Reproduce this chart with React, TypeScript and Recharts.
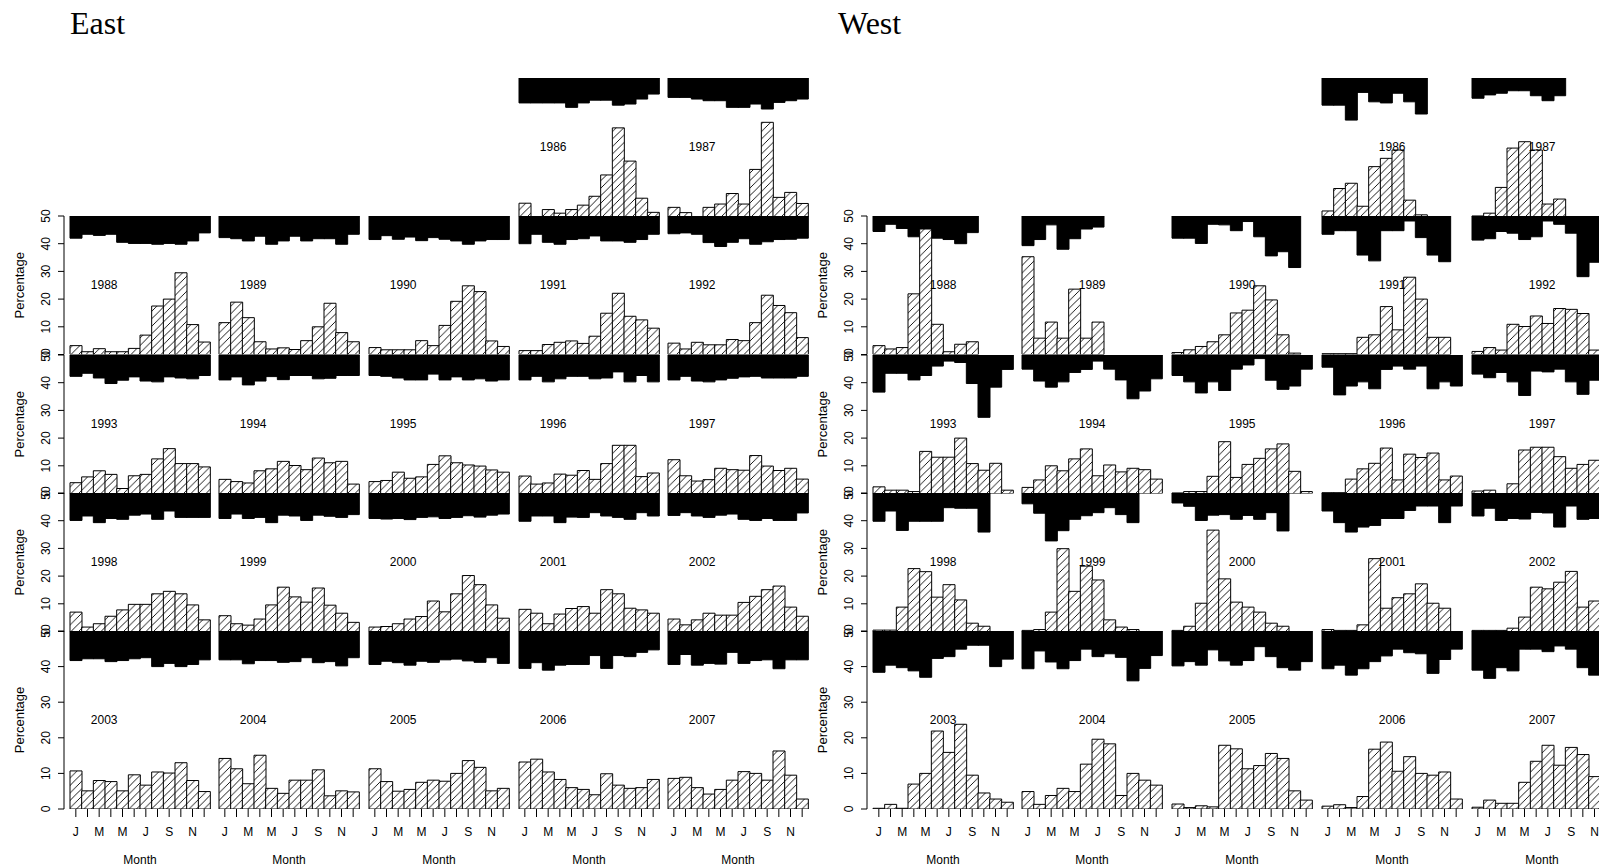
import { BarChart, Bar, XAxis, YAxis, ReferenceDot } from "recharts";

const MONTHS = [1, 2, 3, 4, 5, 6, 7, 8, 9, 10, 11, 12];
const MONTH_LETTERS = ["J", "F", "M", "A", "M", "J", "J", "A", "S", "O", "N", "D"];
const Y_TICKS = [0, 10, 20, 30, 40, 50];

// panel grid, top row only has the last two years
const YEAR_GRID: (number | null)[][] = [
  [null, null, null, 1986, 1987],
  [1988, 1989, 1990, 1991, 1992],
  [1993, 1994, 1995, 1996, 1997],
  [1998, 1999, 2000, 2001, 2002],
  [2003, 2004, 2005, 2006, 2007],
];

type Series = Record<number, (number | null)[]>;

// hatched bars: monthly percentage
const EAST_PCT: Series = {
  1986: [4.8, 0, 2.5, 1.2, 2.5, 4.1, 7.3, 15, 32, 20, 6.6, 1.5],
  1987: [3.3, 1.4, 0, 3.3, 4.5, 8.3, 4.5, 17, 34, 6.9, 8.7, 4.7],
  1988: [3.2, 1, 2.1, 1, 1, 2.2, 7, 17.5, 20, 29.5, 10.8, 4.5],
  1989: [11.5, 18.9, 13.3, 4.6, 2, 2.4, 1.8, 5, 10, 18.5, 7.9, 4.6],
  1990: [2.5, 1.7, 1.7, 1.7, 5, 3.2, 10.5, 19.2, 24.8, 22.7, 4.9, 2.9],
  1991: [1.4, 1.4, 3.6, 4.4, 4.9, 4, 6.6, 14.9, 22.1, 13.8, 12.5, 9.5],
  1992: [4.1, 2, 4.4, 3.5, 3.5, 5.4, 5, 11.5, 21.4, 17.7, 15.1, 6.1],
  1993: [3.9, 6, 8.2, 6.9, 1.8, 6.4, 6.9, 12.5, 16.2, 10.8, 10.8, 9.6],
  1994: [5.1, 4.3, 3.8, 8.2, 8.9, 11.6, 10.1, 8.6, 12.8, 11.1, 11.6, 3.4],
  1995: [4.3, 4.7, 7.7, 5.5, 6, 10.5, 13.6, 11.1, 10.3, 9.9, 8.5, 7.7],
  1996: [6.3, 3.4, 3.8, 7, 6.6, 8.3, 5.1, 10.8, 17.4, 17.4, 6.1, 7.4],
  1997: [12.2, 6.4, 4.5, 5, 9.1, 8.6, 8.4, 13.7, 9.9, 8.3, 9.1, 5.2],
  1998: [7, 1.6, 2.8, 5.5, 7.8, 9.8, 9.8, 13.6, 14.5, 13.6, 9.6, 4.2],
  1999: [5.7, 2.8, 2.3, 4.5, 9.6, 16, 12.5, 10.6, 15.7, 9.5, 6.6, 3.3],
  2000: [1.6, 1.8, 2.8, 4.5, 5.4, 11, 7.1, 13.6, 20.2, 16.9, 9.6, 4.8],
  2001: [8, 6.6, 2.8, 6.3, 8.3, 9, 6.6, 15.1, 13.6, 8.4, 7.8, 6.6],
  2002: [4.5, 2.4, 4.2, 6.6, 5.9, 5.9, 10.5, 12.7, 15.1, 16.4, 8.8, 5.5],
  2003: [10.7, 5.1, 8, 7.7, 5.1, 9.6, 6.7, 10.4, 10.1, 13, 8, 4.9],
  2004: [14.2, 11.3, 7.1, 15.1, 5.8, 4.4, 8.1, 8.1, 11, 3.7, 5.1, 4.8],
  2005: [11.3, 7.7, 5, 5.5, 7.5, 8.1, 7.8, 10, 13.6, 11.7, 5.1, 5.8],
  2006: [13.2, 14, 10.4, 8.3, 6, 5.5, 4, 9.9, 6.7, 5.8, 6, 8.3],
  2007: [8.6, 8.9, 6, 4.2, 5.5, 8.1, 10.5, 10, 8.1, 16.3, 9.5, 2.8],
};

// black bars: depth hanging down from the 50 line
const EAST_DEPTH: Series = {
  1986: [9, 9, 9, 9, 10.6, 9, 8, 8, 9.8, 9.4, 7.6, 5.8],
  1987: [7, 7, 7.6, 8.2, 8.2, 10.6, 10.6, 9.4, 11.2, 8.8, 8.2, 7.6],
  1988: [8, 6.6, 7, 6.6, 9.5, 9.9, 9.9, 10.2, 9.9, 10.2, 9, 6.1],
  1989: [7.8, 8.2, 9, 7.3, 10.2, 9, 7.3, 9, 8.2, 8.2, 10.2, 6.6],
  1990: [8.5, 7.1, 8.4, 7.6, 8.9, 7.8, 8.4, 9, 10.2, 9, 8.5, 8.5],
  1991: [10, 6.6, 9.5, 10.2, 8.5, 8.2, 7.2, 9, 9, 9.5, 8.5, 6.6],
  1992: [6.4, 6.1, 6.6, 9.6, 11, 9.5, 8.2, 10.2, 9.3, 8.5, 8.4, 8],
  1993: [7.7, 6.6, 8.3, 10.3, 9.1, 7.9, 9.4, 9.7, 7.9, 8.3, 8.6, 7.4],
  1994: [9, 7.9, 10.8, 9.4, 7.8, 8.9, 7.4, 7.4, 8.6, 8.4, 7.4, 7.4],
  1995: [7.4, 7.7, 8.3, 9, 9, 6.9, 9, 7.9, 9, 8.6, 9.4, 9],
  1996: [9, 7.7, 9.7, 8.6, 7.7, 7.7, 8.6, 8.3, 6.1, 9.7, 7.4, 9.7],
  1997: [9, 7.7, 9.4, 9.7, 9, 8.4, 7.9, 7.7, 8.3, 8.3, 8.3, 7.7],
  1998: [9.9, 8.3, 10.7, 9.2, 9.5, 8, 7.6, 9.5, 6.5, 8.8, 8.8, 8.8],
  1999: [9.2, 7.6, 9.2, 8.8, 10.7, 8, 8.3, 9.9, 8, 8.4, 8.8, 7.8],
  2000: [9.2, 9.4, 9.2, 9.6, 8.8, 8.6, 9.2, 8.8, 8.2, 8.7, 8, 7.6],
  2001: [10.2, 8.3, 8.3, 10.7, 8.7, 8.8, 7.1, 8.3, 8.8, 9.5, 7.1, 8.3],
  2002: [8.1, 7.1, 8.3, 8.8, 8, 7.6, 9.5, 9.9, 9.2, 9.9, 9.9, 7.2],
  2003: [8.3, 7.8, 7.8, 8.6, 8.3, 7.8, 7.5, 10, 9.1, 10, 9.4, 8.1],
  2004: [8.1, 8.1, 9.2, 8.3, 8.3, 8.8, 8.6, 7.5, 8.9, 8.6, 9.8, 7.5],
  2005: [9.4, 8.5, 8.9, 9.6, 8.5, 8.8, 8.1, 7.9, 8.4, 8.8, 7.5, 9.1],
  2006: [10.5, 8.9, 11, 9.6, 9.4, 9.4, 6.9, 10.5, 6.9, 7.2, 6, 5.3],
  2007: [9.4, 6.6, 9.6, 9.1, 9.3, 6, 9.1, 8.3, 8.1, 10.6, 8.1, 8.1],
};

const WEST_PCT: Series = {
  1986: [2, 10.1, 12, 3.7, 18, 21, 24, 5.9, 0.6, null, null, null],
  1987: [0.2, 1.2, 10.5, 24.7, 27, 24, 4.5, 6.3, null, null, null, null],
  1988: [3.2, 2, 2.5, 21.9, 45.3, 10.9, 1, 3.7, 4.6, null, null, null],
  1989: [35.3, 5.9, 11.7, 5.9, 23.6, 5.9, 11.7, null, null, null, null, null],
  1990: [0.7, 1.7, 2.9, 4.6, 7.1, 15, 16, 24.8, 19.7, 7.1, 0.5, null],
  1991: [0.3, 0.3, 0.3, 6.2, 7.1, 17.3, 8.9, 27.9, 20, 6.2, 6.2, null],
  1992: [1.1, 2.5, 1.6, 10.9, 10.1, 13.9, 11.2, 16.6, 16.3, 14.8, 1.6, 1.5],
  1993: [2.4, 1.2, 1.2, 0.7, 15.2, 13.1, 13.1, 20, 10.8, 8.4, 10.9, 1.2],
  1994: [2.2, 4.9, 10, 8.2, 12.5, 16.1, 6.4, 10.3, 7.8, 9.1, 8.6, 5.2],
  1995: [0.2, 0.7, 0.7, 6.2, 18.7, 5.8, 10.5, 12.7, 16.1, 17.9, 8, 0.7],
  1996: [0.3, 0.3, 5.2, 8.9, 10.9, 16.4, 4.9, 14.2, 13, 14.6, 4.9, 6.3],
  1997: [0.9, 1.2, 0, 3.5, 15.7, 16.7, 16.7, 13.3, 9.1, 10.5, 12, 12],
  1998: [0.5, 0.5, 8.8, 22.7, 21.6, 12.4, 16.9, 11.4, 3, 1.9, null, null],
  1999: [0.4, 0.7, 7, 29.9, 14.5, 23.6, 18.6, 4.2, 1.6, 0.7, null, null],
  2000: [0.4, 1.9, 10.2, 36.6, 19, 10.6, 8.8, 7, 3, 1.9, null, null],
  2001: [0.7, 0.4, 0.4, 2.4, 26.3, 8.4, 12.2, 13.6, 17.2, 10.2, 8.4, 0],
  2002: [0.4, 0.4, 0.4, 1.2, 5.2, 16, 15.4, 17.8, 21.7, 8.8, 11, 11],
  2003: [0.2, 1.3, 0.2, 7, 10, 21.9, 15.9, 23.8, 9.5, 4.5, 2.8, 1.9],
  2004: [4.9, 1.3, 3.8, 5.8, 4.9, 12.6, 19.6, 18.3, 3.8, 10, 8.1, 6.7],
  2005: [1.4, 0.4, 0.9, 0.6, 17.9, 16.9, 11.3, 12.2, 15.6, 14.2, 5.1, 2.5],
  2006: [0.8, 1.2, 0.4, 3.5, 16.8, 18.8, 10.6, 14.7, 10, 9.5, 10.4, 2.8],
  2007: [0.5, 2.5, 1.6, 1.6, 7.5, 13.4, 17.9, 12.3, 17.3, 15.3, 9.1, 9],
};

const WEST_DEPTH: Series = {
  1986: [9.8, 9.8, 15.2, 5.2, 8.6, 9, 5.5, 8.6, 13, null, null, null],
  1987: [7.3, 6.1, 5.5, 4.6, 4.6, 6.4, 8.2, 6.4, null, null, null, null],
  1988: [5.6, 3, 4.5, 7.5, 7, 8, 8.5, 10, 6, null, null, null],
  1989: [10.7, 8.5, 3.2, 12, 8.2, 4.7, 4, null, null, null, null, null],
  1990: [8, 8, 9.9, 3, 3.2, 5.3, 2, 7.5, 14.4, 12.9, 18.6, null],
  1991: [6.6, 5.3, 5.3, 14.1, 16.2, 5.3, 5.3, 1.8, 7.8, 14.1, 16.5, null],
  1992: [8.7, 8.2, 5.6, 6.2, 8.5, 7.5, 1.8, 3, 6.2, 21.9, 16.7, 10],
  1993: [13.4, 6.6, 6.6, 9, 7.4, 4, 2.2, 2.7, 10.3, 22.5, 11.6, 5.2],
  1994: [5.1, 9.4, 11.6, 9.7, 6.3, 5.2, 2.2, 5.1, 9, 15.8, 13, 8.6],
  1995: [7.4, 9.7, 13.7, 9.7, 12.8, 5.1, 3.6, 1.3, 9.1, 12.4, 11.2, 5.1],
  1996: [4.4, 14.4, 11.2, 9.7, 12.2, 5.2, 4, 5.1, 4, 12.2, 9.7, 11.2],
  1997: [6.9, 8.2, 6.3, 9.7, 14.6, 5.8, 6.1, 5.1, 9.7, 14.2, 9.1, 9],
  1998: [10.2, 6.5, 13.5, 10.2, 10.2, 10.2, 5.3, 5.5, 5.5, 14.1, null, null],
  1999: [3.9, 7.3, 17.3, 13.6, 9.5, 8.2, 7.1, 5.3, 7.8, 10.7, null, null],
  2000: [3.6, 4.8, 9.9, 8, 7.8, 9.5, 8.1, 9.5, 7.1, 13.7, null, null],
  2001: [6.5, 10.7, 14.1, 12.3, 11.7, 9.2, 9.2, 6.3, 4.7, 4.7, 10.7, 4.7],
  2002: [8.3, 5.5, 9.9, 9.2, 9.4, 7, 7.2, 12.3, 4.7, 9.5, 9.2, 9],
  2003: [11.6, 9.6, 10.3, 11.2, 13, 7.7, 7.2, 5.1, 4, 4, 10, 7.9],
  2004: [10.6, 5.6, 8.7, 10.6, 8.3, 5.1, 7.2, 6.4, 7.4, 14, 10.5, 6.9],
  2005: [9.8, 8.6, 9.6, 5.3, 8.4, 9.6, 8.3, 4.4, 7.2, 10.3, 11, 8.6],
  2006: [10.6, 9.6, 12.4, 10.6, 8.6, 7, 5.1, 6.1, 6.4, 11.9, 8, 5.1],
  2007: [11, 13.3, 10.3, 11.2, 5.1, 5.1, 5.8, 4.2, 5.1, 10.3, 12.4, 10],
};

// layout of the panel grid (px)
const ROW_TOP = [77.5, 216, 354.5, 493, 631];
const ROW_H = [138.5, 138.5, 138.5, 138.5, 178];
const COL_STEP = 149.7;
const BARS_W = 140;
const PAD = 6;
const AXIS_W = 60;
const HATCH = 7.5;
const FONT = '"Liberation Sans", Arial, Helvetica, sans-serif';

const REGIONS = [
  { name: "East", x0: 69.5, titleX: 70, pct: EAST_PCT, depth: EAST_DEPTH, labelMonth: 3, labelDx: 5 },
  { name: "West", x0: 872.7, titleX: 838, pct: WEST_PCT, depth: WEST_DEPTH, labelMonth: 6, labelDx: 6 },
];

function YTick(props: any) {
  const { x, y, payload } = props;
  const cx = x - 12;
  return (
    <text
      x={cx}
      y={y}
      transform={`rotate(-90 ${cx} ${y})`}
      textAnchor="middle"
      dominantBaseline="central"
      fontSize={12}
      fontFamily={FONT}
      fill="#000"
    >
      {payload.value}
    </text>
  );
}

function PercentLabel(props: any) {
  const vb = props.viewBox;
  const cx = vb.x + vb.width - 45;
  const cy = vb.y + vb.height / 2;
  return (
    <text
      x={cx}
      y={cy}
      transform={`rotate(-90 ${cx} ${cy})`}
      textAnchor="middle"
      dominantBaseline="central"
      fontSize={13}
      fontFamily={FONT}
      fill="#000"
    >
      Percentage
    </text>
  );
}

function MonthLabel(props: any) {
  const vb = props.viewBox;
  return (
    <text
      x={vb.x + vb.width / 2}
      y={vb.y + 55}
      textAnchor="middle"
      fontSize={12}
      fontFamily={FONT}
      fill="#000"
    >
      Month
    </text>
  );
}

interface PanelProps {
  year: number;
  pct: (number | null)[];
  depth: (number | null)[];
  row: number;
  col: number;
  x0: number;
  labelMonth: number;
  labelDx: number;
}

function Panel({ year, pct, depth, row, col, x0, labelMonth, labelDx }: PanelProps) {
  const first = col === 0;
  const last = row === ROW_TOP.length - 1;
  const yW = first ? AXIS_W : 0;
  const xH = last ? 54 : 0;
  const mTop = 12;
  const mBottom = last ? 5 : 10;
  const width = yW + BARS_W + 2 * PAD;
  const height = mTop + ROW_H[row] + xH + mBottom;

  const data = MONTHS.map((m, i) => {
    const d = depth[i];
    return { m, pct: pct[i], black: d == null ? null : [50 - d, 50] };
  });

  return (
    <div
      style={{
        position: "absolute",
        left: x0 + col * COL_STEP - PAD - yW,
        top: ROW_TOP[row] - mTop,
      }}
    >
      <BarChart
        width={width}
        height={height}
        data={data}
        margin={{ top: mTop, right: 0, bottom: mBottom, left: 0 }}
        barCategoryGap={0}
        barGap={0}
      >
        <XAxis
          xAxisId="a"
          dataKey="m"
          hide={!last}
          height={xH}
          padding={{ left: PAD, right: PAD }}
          interval={0}
          axisLine={false}
          tickSize={8}
          tickMargin={10}
          tickLine={{ stroke: "#000" }}
          tick={{ fontSize: 12, fill: "#000", fontFamily: FONT }}
          tickFormatter={(m: number) => (m % 2 === 1 ? MONTH_LETTERS[m - 1] : "")}
          label={last ? { content: MonthLabel } : undefined}
        />
        <XAxis xAxisId="b" dataKey="m" hide padding={{ left: PAD, right: PAD }} />
        <YAxis
          domain={[0, 50]}
          ticks={Y_TICKS}
          allowDataOverflow
          hide={!first}
          width={yW}
          tickSize={6}
          tickMargin={0}
          axisLine={{ stroke: "#000" }}
          tickLine={{ stroke: "#000" }}
          tick={YTick}
          label={first ? { content: PercentLabel } : undefined}
        />
        <Bar xAxisId="b" dataKey="black" fill="#000" stroke="#000" strokeWidth={1} isAnimationActive={false} />
        <Bar xAxisId="a" dataKey="pct" fill="url(#hatch)" stroke="#000" strokeWidth={1} isAnimationActive={false} />
        <ReferenceDot
          xAxisId="a"
          x={labelMonth}
          y={25}
          r={0}
          fill="none"
          stroke="none"
          label={(p: any) => (
            <text
              x={p.viewBox.x + p.viewBox.width / 2 + labelDx}
              y={p.viewBox.y + p.viewBox.height / 2}
              textAnchor="middle"
              dominantBaseline="central"
              fontSize={12}
              fontFamily={FONT}
              fill="#000"
            >
              {year}
            </text>
          )}
        />
      </BarChart>
    </div>
  );
}

export default function App() {
  return (
    <div
      style={{
        position: "fixed",
        left: 0,
        top: 0,
        width: 1599,
        height: 868,
        overflow: "hidden",
        background: "#fff",
      }}
    >
      <svg width={0} height={0} style={{ position: "absolute" }}>
        <defs>
          <pattern id="hatch" width={HATCH} height={HATCH} patternUnits="userSpaceOnUse">
            <rect width={HATCH} height={HATCH} fill="#fff" />
            <path
              d={`M0,${HATCH} L${HATCH},0 M${-HATCH / 2},${HATCH / 2} L${HATCH / 2},${-HATCH / 2} M${HATCH / 2},${HATCH * 1.5} L${HATCH * 1.5},${HATCH / 2}`}
              stroke="#000"
              strokeWidth={0.9}
            />
          </pattern>
        </defs>
      </svg>
      {REGIONS.map((reg) => (
        <div key={reg.name}>
          <div
            style={{
              position: "absolute",
              left: reg.titleX,
              top: 6.5,
              fontFamily: '"Liberation Serif", "Times New Roman", serif',
              fontSize: 32,
              lineHeight: "32px",
              color: "#000",
            }}
          >
            {reg.name}
          </div>
          {YEAR_GRID.map((years, row) =>
            years.map((year, col) =>
              year == null ? null : (
                <Panel
                  key={`${reg.name}-${year}`}
                  year={year}
                  pct={reg.pct[year]}
                  depth={reg.depth[year]}
                  row={row}
                  col={col}
                  x0={reg.x0}
                  labelMonth={reg.labelMonth}
                  labelDx={reg.labelDx}
                />
              )
            )
          )}
        </div>
      ))}
    </div>
  );
}
